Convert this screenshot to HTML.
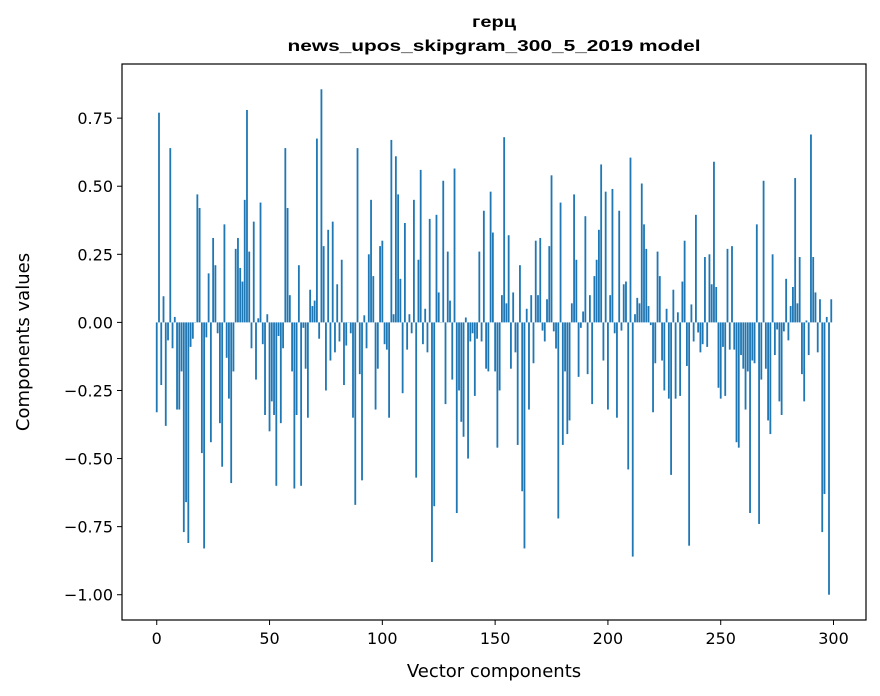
<!DOCTYPE html>
<html><head><meta charset="utf-8"><style>
html,body{margin:0;padding:0;background:#fff;}
svg{display:block;}
text{font-family:"DejaVu Sans","Liberation Sans",sans-serif;fill:#000;}
.t{font-family:"Liberation Sans","DejaVu Sans",sans-serif;font-weight:bold;font-size:16px;}
</style></head><body>
<svg id="chart" width="880" height="696" viewBox="0 0 880 696" xmlns="http://www.w3.org/2000/svg">
<rect width="880" height="696" fill="#fff"/>
<text class="t" x="494" y="27" text-anchor="middle" textLength="44" lengthAdjust="spacingAndGlyphs">герц</text>
<text class="t" x="494" y="51" text-anchor="middle" textLength="413" lengthAdjust="spacingAndGlyphs">news_upos_skipgram_300_5_2019 model</text>
<g id="bars"></g>
<g id="axes"></g>
<rect x="122" y="64" width="744" height="556" fill="none" stroke="#000" stroke-width="1.2"/>
<text x="494" y="677" text-anchor="middle" font-size="18">Vector components</text>
<text x="29" y="342" text-anchor="middle" font-size="18" transform="rotate(-90 29 342)">Components values</text>
</svg>
<script>
const values = [
-0.33,0.77,-0.23,0.096,-0.38,-0.066,0.64,-0.095,0.02,-0.32,
-0.32,-0.18,-0.77,-0.66,-0.81,-0.09,-0.06,0.0,0.47,0.42,
-0.48,-0.83,-0.055,0.18,-0.44,0.31,0.21,-0.04,-0.37,-0.53,
0.36,-0.13,-0.28,-0.59,-0.18,0.27,0.31,0.2,0.15,0.45,
0.78,0.26,-0.095,0.37,-0.21,0.015,0.44,-0.08,-0.34,0.03,
-0.4,-0.29,-0.34,-0.6,-0.05,-0.37,-0.095,0.64,0.42,0.10,
-0.18,-0.61,-0.34,0.21,-0.6,-0.02,-0.17,-0.35,0.12,0.06,
0.08,0.675,-0.06,0.856,0.28,-0.25,0.34,-0.14,0.37,-0.11,
0.14,-0.07,0.23,-0.23,-0.085,0.0,-0.04,-0.35,-0.67,0.64,
-0.19,-0.58,0.026,-0.095,0.25,0.45,0.17,-0.32,-0.17,0.28,
0.30,-0.08,-0.1,-0.35,0.67,0.03,0.61,0.47,0.16,-0.26,
0.365,-0.1,0.03,-0.04,0.45,-0.57,0.23,0.56,-0.08,0.05,
-0.11,0.38,-0.88,-0.675,0.395,0.11,0.0,0.52,-0.3,0.26,
0.08,-0.21,0.565,-0.70,-0.25,-0.365,-0.42,0.018,-0.5,-0.07,
-0.04,-0.27,-0.06,0.26,-0.07,0.41,-0.17,-0.18,0.48,0.33,
-0.18,-0.46,-0.25,0.1,0.68,0.07,0.32,-0.17,0.11,-0.11,
-0.45,0.21,-0.62,-0.83,0.05,-0.32,0.10,-0.15,0.3,0.1,
0.31,-0.03,-0.07,0.085,0.28,0.54,-0.033,-0.096,-0.72,0.44,
-0.45,-0.18,-0.41,-0.36,0.07,0.47,0.23,-0.2,-0.02,0.04,
0.39,-0.19,0.1,-0.3,0.17,0.23,0.34,0.58,-0.14,0.48,
-0.32,0.10,0.49,-0.04,-0.35,0.41,-0.03,0.14,0.15,-0.54,
0.605,-0.86,0.03,0.09,0.07,0.51,0.36,0.27,0.06,-0.01,
-0.33,-0.15,0.26,0.17,-0.14,-0.25,0.05,-0.28,-0.56,0.12,
-0.28,0.037,-0.27,0.15,0.30,-0.16,-0.82,0.066,-0.07,0.395,
-0.037,-0.11,-0.08,0.24,-0.09,0.25,0.14,0.59,0.13,-0.24,
-0.28,-0.09,-0.27,0.27,-0.1,0.28,-0.1,-0.44,-0.46,-0.12,
-0.17,-0.32,-0.18,-0.70,-0.14,-0.15,0.36,-0.74,-0.21,0.52,
-0.17,-0.36,-0.41,0.25,-0.12,-0.026,-0.29,-0.34,-0.033,0.16,
-0.066,0.06,0.13,0.53,0.07,0.24,-0.19,-0.29,0.007,-0.12,
0.69,0.24,0.11,-0.11,0.085,-0.77,-0.63,0.02,-1.0,0.085
];
const xTicks = [0,50,100,150,200,250,300];
const yTicks = [-1.0,-0.75,-0.5,-0.25,0.0,0.25,0.5,0.75];
const yTickLabels = ["\u22121.00","\u22120.75","\u22120.50","\u22120.25","0.00","0.25","0.50","0.75"];

const NS = "http://www.w3.org/2000/svg";
const L = 122, R = 866, T = 64, B = 620;
const xMin = -15.4, xMax = 314.4;
const vMin = Math.min(...values), vMax = Math.max(...values);
const yPad = (vMax - vMin) * 0.05;
const yMin = vMin - yPad, yMax = vMax + yPad;
function xs(v){ return L + (v - xMin) / (xMax - xMin) * (R - L); }
function ys(v){ return B - (v - yMin) / (yMax - yMin) * (B - T); }

const bars = document.getElementById('bars');
const bw = xs(0.8) - xs(0);
values.forEach((v, i) => {
  const r = document.createElementNS(NS, 'rect');
  const y0 = ys(0), y1 = ys(v);
  r.setAttribute('x', xs(i) - bw / 2);
  r.setAttribute('y', Math.min(y0, y1));
  r.setAttribute('width', bw);
  r.setAttribute('height', Math.max(Math.abs(y1 - y0), 0.3));
  r.setAttribute('fill', '#1f77b4');
  
  
  bars.appendChild(r);
});

const axes = document.getElementById('axes');
xTicks.forEach(t => {
  const x = xs(t);
  const ln = document.createElementNS(NS, 'line');
  ln.setAttribute('x1', x); ln.setAttribute('x2', x);
  ln.setAttribute('y1', B); ln.setAttribute('y2', B + 5);
  ln.setAttribute('stroke', '#000');
  
  
  axes.appendChild(ln);
  const tx = document.createElementNS(NS, 'text');
  tx.setAttribute('x', x); tx.setAttribute('y', B + 24);
  tx.setAttribute('text-anchor', 'middle');
  tx.setAttribute('font-size', '16');
  tx.textContent = String(t);
  
  
  axes.appendChild(tx);
});
yTicks.forEach((t, i) => {
  const y = ys(t);
  const ln = document.createElementNS(NS, 'line');
  ln.setAttribute('x1', L - 5); ln.setAttribute('x2', L);
  ln.setAttribute('y1', y); ln.setAttribute('y2', y);
  ln.setAttribute('stroke', '#000');
  
  
  axes.appendChild(ln);
  const tx = document.createElementNS(NS, 'text');
  tx.setAttribute('x', L - 9); tx.setAttribute('y', y + 6);
  tx.setAttribute('text-anchor', 'end');
  tx.setAttribute('font-size', '16');
  tx.textContent = yTickLabels[i];
  
  
  axes.appendChild(tx);
});
</script>
</body></html>
